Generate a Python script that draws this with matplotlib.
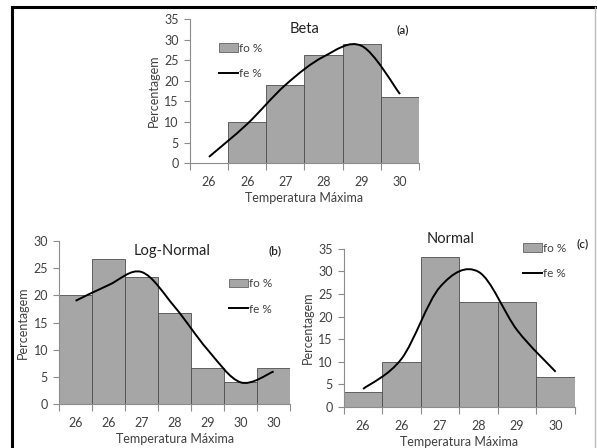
import numpy as np
import matplotlib.pyplot as plt
from matplotlib.path import Path
from matplotlib.patches import PathPatch
from matplotlib.lines import Line2D

plt.rcParams['font.family'] = ['Lato', 'DejaVu Sans']

# Beta (a)
beta_labels = ['26', '26', '27', '28', '29', '30']
beta_fo = [0, 10.1, 18.9, 26.2, 29.0, 16.0]
beta_fe = [1.5, 9.5, 19.0, 25.9, 28.5, 16.8]

# Log-Normal (b)
logn_labels = ['26', '26', '27', '28', '29', '30', '30']
logn_fo = [20.0, 26.7, 23.3, 16.7, 6.7, 4.0, 6.7]
logn_fe = [19.0, 21.9, 24.3, 17.9, 10.0, 4.0, 6.0]

# Normal (c)
norm_labels = ['26', '26', '27', '28', '29', '30']
norm_fo = [3.3, 10.0, 33.3, 23.3, 23.3, 6.7]
norm_fe = [4.0, 10.7, 26.6, 29.9, 17.0, 7.8]

BAR = '#a6a6a6'
EDGE = '#4d4d4d'
AXC = '#8c8c8c'
TXT = '#404040'


def smooth_path(y):
    # Excel-like smoothed line: cubic Bezier through the points (Catmull-Rom)
    x = np.arange(len(y), dtype=float)
    y = np.asarray(y, dtype=float)
    pts = np.column_stack([x, y])
    verts = [pts[0]]
    codes = [Path.MOVETO]
    for i in range(len(pts) - 1):
        p0 = pts[i - 1] if i > 0 else pts[i]
        p1 = pts[i]
        p2 = pts[i + 1]
        p3 = pts[i + 2] if i + 2 < len(pts) else pts[i + 1]
        c1 = p1 + (p2 - p0) / 6
        c2 = p2 - (p3 - p1) / 6
        verts += [c1, c2, p2]
        codes += [Path.CURVE4] * 3
    return Path(verts, codes)


def panel(fig, rect, labels, fo, fe, ymax, title, tpos, tag, tagpos, legpos):
    ax = fig.add_axes(rect)
    n = len(labels)
    idx = np.arange(n)
    ax.bar(idx, fo, width=1.0, color=BAR, edgecolor=EDGE, linewidth=0.6, label='fo %')
    ax.add_patch(PathPatch(smooth_path(fe), facecolor='none', edgecolor='black', lw=1.4))
    ax.set_xlim(-0.5, n - 0.5)
    ax.set_ylim(0, ymax)
    ax.set_yticks(np.arange(0, ymax + 1, 5))
    ax.set_xticks(idx)
    ax.set_xticklabels(labels)
    ax.set_xticks(np.arange(n + 1) - 0.5, minor=True)
    ax.tick_params(axis='x', which='major', length=0, pad=9, labelsize=9, colors=TXT)
    ax.tick_params(axis='x', which='minor', length=5, color=AXC, width=0.8)
    ax.tick_params(axis='y', length=4, color=AXC, width=0.8, labelsize=9, colors=TXT, pad=4)
    for s in ['top', 'right']:
        ax.spines[s].set_visible(False)
    for s in ['left', 'bottom']:
        ax.spines[s].set_color(AXC)
        ax.spines[s].set_linewidth(0.8)
    ax.set_xlabel('Temperatura Máxima', fontsize=9, color=TXT, labelpad=3)
    ax.set_ylabel('Percentagem', fontsize=9, color=TXT, labelpad=3)
    ax.text(tpos[0], tpos[1], title, transform=ax.transAxes, ha='center', va='center',
            fontsize=10.5, color='#222222')
    ax.text(tagpos[0], tagpos[1], tag, transform=ax.transAxes, ha='center', va='center',
            fontsize=8.5, color='#222222', fontweight='semibold')
    handles = [plt.Rectangle((0, 0), 1, 1, color=BAR, ec=EDGE, lw=0.5),
               Line2D([0], [0], color='black', lw=1.4)]
    ax.legend(handles, ['fo %', 'fe %'], loc='upper left', bbox_to_anchor=legpos,
              frameon=False, fontsize=8.5, labelspacing=1.2, handlelength=1.6,
              handletextpad=0.1, borderaxespad=0, labelcolor=TXT)
    return ax


fig = plt.figure(figsize=(5.97, 4.48), dpi=100)

panel(fig, [0.318, 0.636, 0.384, 0.321], beta_labels, beta_fo, beta_fe, 35,
      'Beta', (0.5, 0.93), '(a)', (0.93, 0.93), (0.105, 0.87))
panel(fig, [0.099, 0.098, 0.387, 0.364], logn_labels, logn_fo, logn_fe, 30,
      'Log-Normal', (0.49, 0.94), '(b)', (0.935, 0.94), (0.715, 0.80))
panel(fig, [0.576, 0.0915, 0.387, 0.353], norm_labels, norm_fo, norm_fe, 35,
      'Normal', (0.46, 1.06), '(c)', (1.035, 1.03), (0.755, 1.07))

# outer frame
fig.add_artist(Line2D([0.02, 0.02], [0.0, 0.985], color='black', lw=2.2, transform=fig.transFigure))
fig.add_artist(Line2D([0.02, 0.997], [0.985, 0.985], color='black', lw=2.2, transform=fig.transFigure))
fig.add_artist(Line2D([0.997, 0.997], [0.0, 0.985], color='#bbbbbb', lw=1, transform=fig.transFigure))

fig.savefig('out.png', dpi=100)
